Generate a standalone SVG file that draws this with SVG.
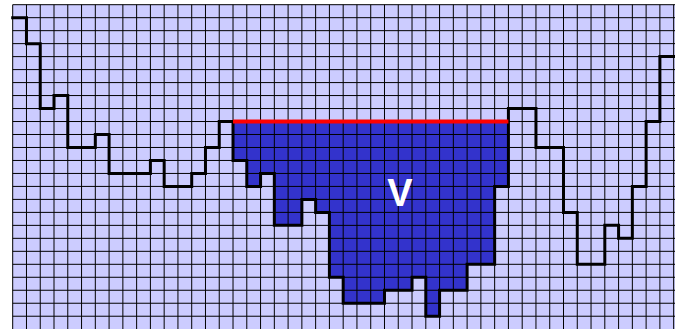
<svg xmlns="http://www.w3.org/2000/svg" width="675" height="329" viewBox="0 0 675 329">
  <style>
    .nss { vector-effect: non-scaling-stroke; fill: none; }
    .grid { stroke: #000; stroke-width: 1; }
    .terrain { stroke: #000; stroke-width: 3; stroke-linejoin: miter; stroke-linecap: square; }
    .surface { stroke: #ff0000; stroke-width: 4; }
    .label { font-family: "Liberation Sans", Arial, sans-serif; font-weight: bold; font-size: 38px; fill: #ffffff; }
  </style>
  <rect x="0" y="0" width="675" height="329" fill="#ffffff"/>
  <rect x="12.7" y="4.7" width="662.3" height="324.3" fill="#ccccff"/>
  <g id="diagram" transform="translate(12.7,4.7) scale(13.77,12.98)">
    <polygon id="water" fill="#3333cc" points="16,9 16,12 17,12 17,14 18,14 18,13 19,13 19,17 21,17 21,15 22,15 22,16 23,16 23,21 24,21 24,23 27,23 27,22 29,22 29,21 30,21 30,24 31,24 31,22 33,22 33,20 35,20 35,14 36,14 36,9"/>
    <path id="grid" class="nss grid" d="M0 0V25.1M1 0V25.1M2 0V25.1M3 0V25.1M4 0V25.1M5 0V25.1M6 0V25.1M7 0V25.1M8 0V25.1M9 0V25.1M10 0V25.1M11 0V25.1M12 0V25.1M13 0V25.1M14 0V25.1M15 0V25.1M16 0V25.1M17 0V25.1M18 0V25.1M19 0V25.1M20 0V25.1M21 0V25.1M22 0V25.1M23 0V25.1M24 0V25.1M25 0V25.1M26 0V25.1M27 0V25.1M28 0V25.1M29 0V25.1M30 0V25.1M31 0V25.1M32 0V25.1M33 0V25.1M34 0V25.1M35 0V25.1M36 0V25.1M37 0V25.1M38 0V25.1M39 0V25.1M40 0V25.1M41 0V25.1M42 0V25.1M43 0V25.1M44 0V25.1M45 0V25.1M46 0V25.1M47 0V25.1M48 0V25.1M0 0H48.2M0 1H48.2M0 2H48.2M0 3H48.2M0 4H48.2M0 5H48.2M0 6H48.2M0 7H48.2M0 8H48.2M0 9H48.2M0 10H48.2M0 11H48.2M0 12H48.2M0 13H48.2M0 14H48.2M0 15H48.2M0 16H48.2M0 17H48.2M0 18H48.2M0 19H48.2M0 20H48.2M0 21H48.2M0 22H48.2M0 23H48.2M0 24H48.2"/>
    <polyline id="terrain" class="nss terrain" points="0,1 1,1 1,3 2,3 2,8 3,8 3,7 4,7 4,11 6,11 6,10 7,10 7,13 10,13 10,12 11,12 11,14 13,14 13,13 14,13 14,11 15,11 15,9 16,9 16,12 17,12 17,14 18,14 18,13 19,13 19,17 21,17 21,15 22,15 22,16 23,16 23,21 24,21 24,23 27,23 27,22 29,22 29,21 30,21 30,24 31,24 31,22 33,22 33,20 35,20 35,14 36,14 36,8 38,8 38,11 40,11 40,16 41,16 41,20 43,20 43,17 44,17 44,18 45,18 45,14 46,14 46,9 47,9 47,4 48.2,4"/>
    <line id="surface" class="nss surface" x1="16" y1="9" x2="36" y2="9"/>
  </g>
  <text id="label-v" class="label" x="400" y="206" text-anchor="middle">V</text>
</svg>
